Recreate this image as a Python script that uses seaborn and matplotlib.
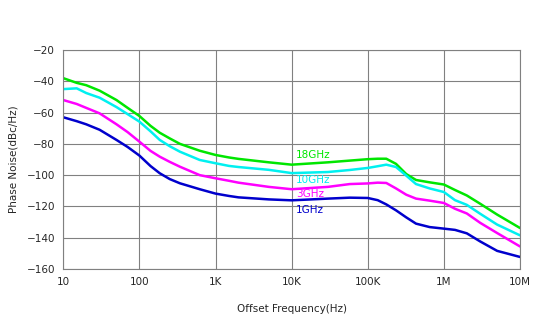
import matplotlib
matplotlib.use("Agg")
import matplotlib.pyplot as plt
import seaborn as sns
import pandas as pd

freq = [10, 15, 20, 30, 50, 70, 100, 140, 185, 250, 340, 620, 1e3, 1.5e3, 2e3, 5e3,
        1e4, 3e4, 5.8e4, 1e5, 1.35e5, 1.75e5, 2.35e5, 3.2e5, 4.3e5, 6.5e5, 1e6, 1.4e6,
        2e6, 3e6, 5e6, 1e7]

pn_18g = [-38, -41, -42.5, -46, -52, -57, -62.2, -68.5, -72.9, -76.5, -80, -84.4, -87.1, -88.7, -89.6, -91.8,
          -93.3, -91.8, -90.7, -89.8, -89.5, -89.5, -92.8, -99.3, -103.1, -104.6, -106, -109.5,
          -113, -118.3, -125.2, -133.8]
pn_10g = [-45, -44.5, -47.5, -50.5, -56.5, -61, -65.8, -72, -77.5, -81.5, -85, -90.3, -92.4, -94.1, -94.8, -96.6,
          -98.7, -98, -96.7, -95.4, -94.3, -93.3, -94.8, -100.3, -105.7, -108.5, -110.8, -116,
          -119, -124.7, -131.6, -138.5]
pn_3g = [-52, -54.5, -57, -60.5, -67.5, -72.5, -78.6, -84.5, -88.2, -91.5, -94.6, -100, -102, -103.6, -104.8, -107.5,
         -109, -107.5, -105.7, -105.3, -104.8, -105, -108.5, -112.5, -115, -116.3, -117.8, -121.5,
         -124.5, -130.5, -137, -145.6]
pn_1g = [-63, -65.5, -67.5, -71, -77.5, -82, -87.5, -94.2, -98.8, -102.5, -105.2, -109, -111.8, -113.3, -114.2, -115.5,
         -116.1, -115, -114.4, -114.6, -116, -118.7, -122.5, -127, -131, -133.2, -134.2, -135,
         -137.2, -142.4, -148.4, -152.3]

series = ["18GHz", "10GHz", "3GHz", "1GHz"]
colors = ["#00e600", "#00f0f0", "#ff00ff", "#0000cc"]
label_y = [-87.1, -103.4, -112.0, -122.3]
label_x = 1.13e4

tick_vals = [10, 100, 1e3, 1e4, 1e5, 1e6, 1e7]
tick_labels = ["10", "100", "1K", "10K", "100K", "1M", "10M"]
y_ticks = [-20, -40, -60, -80, -100, -120, -140, -160]

df = pd.concat([
    pd.DataFrame({"freq": freq, "pn": v, "series": s})
    for s, v in zip(series, [pn_18g, pn_10g, pn_3g, pn_1g])
])

sns.set_style("white")
plt.rcParams["font.family"] = ["DejaVu Sans"]

fig = plt.figure(figsize=(5.5, 3.22), dpi=100)
ax = fig.add_axes([0.1151, 0.1646, 0.8304, 0.6801])

sns.lineplot(data=df, x="freq", y="pn", hue="series", palette=dict(zip(series, colors)),
             linewidth=1.8, legend=False, ax=ax, sort=False)

ax.set_xscale("log")
ax.set_xlim(10, 1e7)
ax.set_ylim(-160, -20)
ax.set_xticks(tick_vals)
ax.set_xticklabels(tick_labels)
ax.minorticks_off()
ax.set_yticks(y_ticks)
ax.tick_params(axis="both", labelsize=7.5, length=0, pad=6)
ax.grid(True, color="#808080", linewidth=0.8)
ax.set_axisbelow(True)
for sp in ax.spines.values():
    sp.set_color("#808080")
    sp.set_linewidth(0.8)

for s, c, y in zip(series, colors, label_y):
    ax.text(label_x, y, s, color=c, fontsize=7.5, va="center", ha="left")

ax.set_xlabel("Offset Frequency(Hz)", fontsize=7.5, labelpad=12)
ax.set_ylabel("Phase Noise(dBc/Hz)", fontsize=7.5, labelpad=6)

fig.savefig("out.png", dpi=100)
